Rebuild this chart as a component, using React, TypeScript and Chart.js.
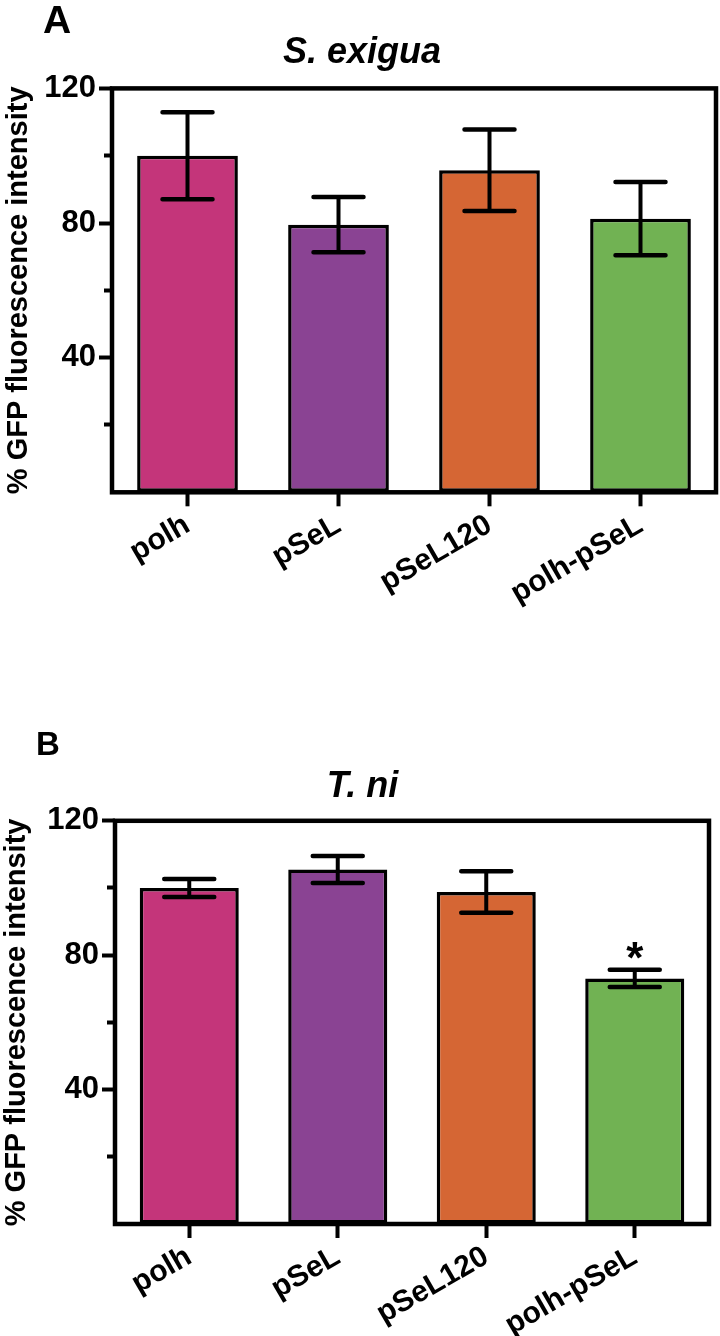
import React, { useEffect, useRef } from 'react';
import { Chart, registerables } from 'chart.js';

Chart.register(...registerables);

// ---------- data ----------
const categories = ['polh', 'pSeL', 'pSeL120', 'polh-pSeL'];

const exiguaMeans = [100, 79.5, 95.7, 81.3];
const exiguaErrors = [12.9, 8.2, 12.1, 10.9];
const exiguaMarks = ['', '', '', ''];

const tniMeans = [100, 105.5, 98.8, 73.1];
const tniErrors = [2.7, 4.0, 6.2, 2.6];
const tniMarks = ['', '', '', '*'];

const barColors = ['#C4357A', '#8A4393', '#D56634', '#71B253'];

const yMax = 120;
const yMajorStep = 40;
const yMinorStep = 20;
const yAxisTitle = '% GFP fluorescence intensity';

const SANS = "'Liberation Sans', Arial, sans-serif";
const NARROW = "'Liberation Sans Narrow', 'Liberation Sans', Arial, sans-serif";

type PanelSpec = {
  letter: string;
  title: string;
  means: number[];
  errors: number[];
  marks: string[];
  top: number;
  height: number;
  padLeft: number;
  padRight: number;
  yWidth: number;
  xHeight: number;
  titleTop: number;
  titleBottom: number;
  yTitleTop: number;
  letterX: number;
  letterY: number;
  letterSize: number;
};

const panelA: PanelSpec = {
  letter: 'A',
  title: 'S. exigua',
  means: exiguaMeans,
  errors: exiguaErrors,
  marks: exiguaMarks,
  top: 0,
  height: 668,
  padLeft: 8,
  padRight: 4,
  yWidth: 104,
  xHeight: 175.7,
  titleTop: 31,
  titleBottom: 14.2,
  yTitleTop: -6.4,
  letterX: 43,
  letterY: 33,
  letterSize: 39,
};

const panelB: PanelSpec = {
  letter: 'B',
  title: 'T. ni',
  means: tniMeans,
  errors: tniErrors,
  marks: tniMarks,
  top: 668,
  height: 668,
  padLeft: 16,
  padRight: 11,
  yWidth: 99,
  xHeight: 112,
  titleTop: 97,
  titleBottom: 12.6,
  yTitleTop: -16.4,
  letterX: 36,
  letterY: 87,
  letterSize: 33,
};

function panelPlugin(p: PanelSpec) {
  return {
    id: 'panelDecor',
    afterDatasetsDraw(chart: any) {
      const { ctx, chartArea } = chart;
      const yScale = chart.scales.y;
      const meta = chart.getDatasetMeta(0);
      ctx.save();
      ctx.strokeStyle = '#000';
      ctx.fillStyle = '#000';
      meta.data.forEach((bar: any, i: number) => {
        const x = bar.x;
        const top = yScale.getPixelForValue(p.means[i] + p.errors[i]);
        const bot = yScale.getPixelForValue(p.means[i] - p.errors[i]);
        ctx.lineWidth = 4;
        ctx.lineCap = 'butt';
        ctx.beginPath();
        ctx.moveTo(x, top);
        ctx.lineTo(x, bot);
        ctx.stroke();
        ctx.lineWidth = 4.5;
        ctx.lineCap = 'round';
        ctx.beginPath();
        ctx.moveTo(x - 25, top);
        ctx.lineTo(x + 25, top);
        ctx.moveTo(x - 25, bot);
        ctx.lineTo(x + 25, bot);
        ctx.stroke();
        if (p.marks[i]) {
          ctx.font = `bold 44px ${SANS}`;
          ctx.textAlign = 'center';
          ctx.textBaseline = 'alphabetic';
          ctx.fillText(p.marks[i], x, top + 3);
        }
      });
      ctx.lineWidth = 4.5;
      ctx.lineCap = 'butt';
      ctx.lineJoin = 'miter';
      ctx.strokeRect(
        chartArea.left,
        chartArea.top,
        chartArea.right - chartArea.left,
        chartArea.bottom - chartArea.top
      );
      ctx.font = `bold ${p.letterSize}px ${SANS}`;
      ctx.textAlign = 'left';
      ctx.textBaseline = 'alphabetic';
      ctx.fillText(p.letter, p.letterX, p.letterY);
      ctx.restore();
    },
  };
}

function makeConfig(p: PanelSpec): any {
  return {
    type: 'bar',
    data: {
      labels: categories,
      datasets: [
        {
          data: p.means,
          backgroundColor: barColors,
          borderColor: '#000',
          borderWidth: 3.5,
          borderSkipped: false,
          categoryPercentage: 1,
          barPercentage: 0.667,
        },
      ],
    },
    options: {
      responsive: false,
      animation: false,
      events: [],
      layout: { padding: { left: p.padLeft, right: p.padRight, top: 0, bottom: 0 } },
      plugins: {
        legend: { display: false },
        tooltip: { enabled: false },
        title: {
          display: true,
          text: p.title,
          color: '#000',
          font: { family: SANS, size: 36, weight: 'bold', style: 'italic' },
          padding: { top: p.titleTop, bottom: p.titleBottom },
        },
      },
      scales: {
        x: {
          type: 'category',
          offset: true,
          grid: {
            offset: false,
            drawOnChartArea: false,
            tickLength: 14,
            tickWidth: 4,
            tickColor: '#000',
          },
          border: { display: false },
          ticks: {
            color: '#000',
            font: { family: SANS, size: 30, weight: 'bold' },
            minRotation: 30,
            maxRotation: 30,
            padding: 1,
            autoSkip: false,
          },
          afterFit: (s: any) => {
            s.height = p.xHeight;
          },
        },
        y: {
          type: 'linear',
          position: 'left',
          min: 0,
          max: yMax,
          ticks: {
            stepSize: yMajorStep,
            color: '#000',
            font: { family: NARROW, size: 31, weight: 'bold' },
            padding: 3,
            callback: (v: number) => (v === 0 ? '' : String(v)),
          },
          grid: {
            drawOnChartArea: false,
            tickLength: 13,
            tickWidth: 4,
            tickColor: (c: any) => (c.tick && c.tick.value === 0 ? 'rgba(0,0,0,0)' : '#000'),
          },
          border: { display: false },
          title: {
            display: true,
            text: yAxisTitle,
            color: '#000',
            font: { family: SANS, size: 29, weight: 'bold' },
            padding: { top: p.yTitleTop, bottom: 0 },
          },
          afterFit: (s: any) => {
            s.width = p.yWidth;
          },
        },
        yMinor: {
          type: 'linear',
          position: 'left',
          min: 0,
          max: yMax,
          weight: -10,
          ticks: { display: false, stepSize: yMinorStep },
          grid: {
            drawOnChartArea: false,
            tickLength: 8,
            tickWidth: 4,
            tickColor: (c: any) =>
              c.tick && c.tick.value % yMajorStep === yMinorStep ? '#000' : 'rgba(0,0,0,0)',
          },
          border: { display: false },
          afterFit: (s: any) => {
            s.width = 0;
          },
        },
      },
    },
    plugins: [panelPlugin(p)],
  };
}

function Panel({ spec }: { spec: PanelSpec }) {
  const ref = useRef<HTMLCanvasElement>(null);
  useEffect(() => {
    const chart = new Chart(ref.current as HTMLCanvasElement, makeConfig(spec));
    return () => chart.destroy();
  }, [spec]);
  return (
    <canvas
      ref={ref}
      width={720}
      height={spec.height}
      style={{ position: 'absolute', left: 0, top: spec.top, width: 720, height: spec.height, display: 'block' }}
    />
  );
}

export default function App() {
  return (
    <div
      style={{
        position: 'absolute',
        left: 0,
        top: 0,
        width: 720,
        height: 1336,
        background: '#fff',
        overflow: 'hidden',
      }}
    >
      <Panel spec={panelA} />
      <Panel spec={panelB} />
    </div>
  );
}
